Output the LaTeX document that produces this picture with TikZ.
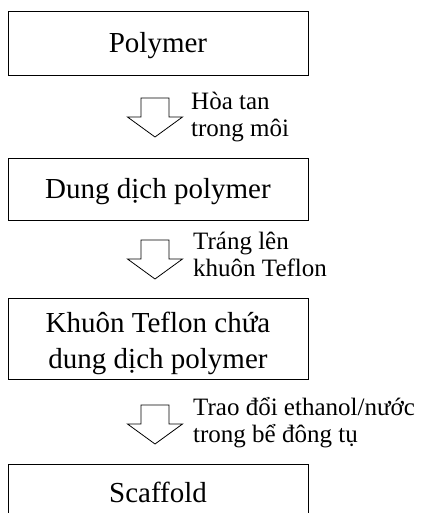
\documentclass[tikz,border=0pt]{standalone}
\usepackage{fontspec}
\setmainfont{Liberation Serif}
\begin{document}
\begin{tikzpicture}[x=1pt,y=-1pt,
  stepbox/.style={draw, line width=0.9pt, minimum width=300pt, inner sep=0pt,
    font=\fontsize{29}{36}\selectfont, text height=19pt, text depth=0pt},
  lbl/.style={anchor=base west, inner sep=0pt, font=\fontsize{25}{27}\selectfont},
  blockarrow/.pic={\draw[line width=0.8pt, line join=miter]
    (-14,0) -- (14,0) -- (14,19) -- (27.5,19) -- (0,39) -- (-27.5,19) -- (-14,19) -- cycle;}]
\useasboundingbox (0,0) rectangle (422,513);
\clip (0,0) rectangle (422,513);
\node[stepbox, minimum height=64pt] (b1) at (158,43) {Polymer};
\node[stepbox, minimum height=62pt] (b2) at (158,189) {Dung dịch polymer};
\node[stepbox, minimum height=81pt, text height=59pt, text depth=0pt] (b3) at (158,338.5)
  {\begin{tabular}[b]{@{}c@{}}Khuôn Teflon chứa\\dung dịch polymer\end{tabular}};
\node[stepbox, minimum height=70pt, text height=19pt, text depth=13pt] (b4) at (158,499) {Scaffold};
\coordinate (a1) at (155,98);
\coordinate (a2) at (155,240);
\coordinate (a3) at (155,405);
\pic at (a1) {blockarrow};
\pic at (a2) {blockarrow};
\pic at (a3) {blockarrow};
\node[lbl] (l1) at (191,110) {\begin{tabular}[t]{@{}l@{}}Hòa tan\\trong môi\end{tabular}};
\node[lbl] (l2) at (193,249) {\begin{tabular}[t]{@{}l@{}}Tráng lên\\khuôn Teflon\end{tabular}};
\node[lbl] (l3) at (193,415) {\begin{tabular}[t]{@{}l@{}}Trao đổi ethanol/nước\\trong bể đông tụ\end{tabular}};
\end{tikzpicture}
\end{document}
